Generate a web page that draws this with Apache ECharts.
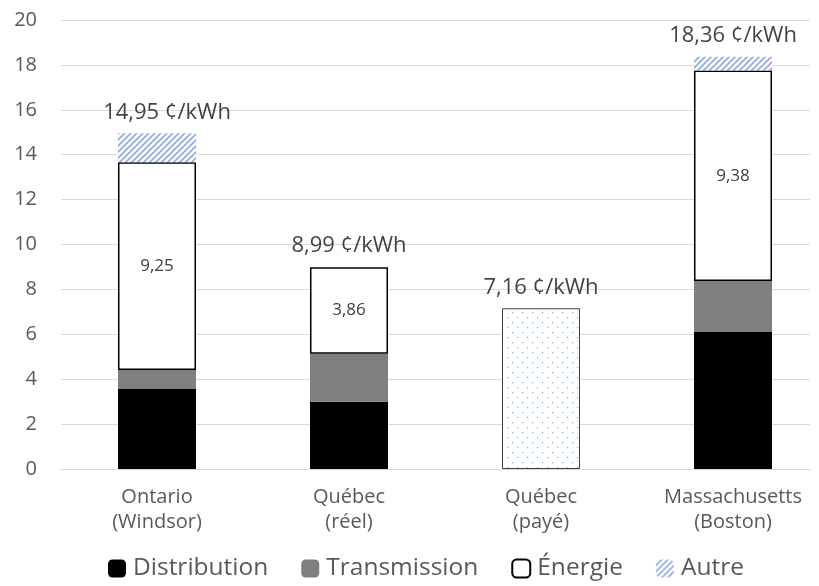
<!DOCTYPE html>
<html>
<head>
<meta charset="utf-8">
<script src="https://cdn.jsdelivr.net/npm/echarts@6/dist/echarts.min.js"></script>
<style>
  html, body { margin: 0; padding: 0; background: #fff; overflow: hidden; width: 819px; height: 586px; }
  #chart { width: 840px; height: 586px; }
</style>
</head>
<body>
<div id="chart"></div>
<script>
// Coûts de l'électricité par composante (¢/kWh)
const categories = ['Ontario\n(Windsor)', 'Québec\n(réel)', 'Québec\n(payé)', 'Massachusetts\n(Boston)'];
const distribution = [3.56, 2.99, null, 6.12];
const transmission = [0.85, 2.14, null, 2.25];
const energie = [9.25, 3.86, null, 9.38];
const autre = [1.29, null, null, 0.61];
const paye = [null, null, 7.16, null];
const totals = [14.95, 8.99, 7.16, 18.36];
const yTicks = { min: 0, max: 20, interval: 2 };

const FONT = '"Open Sans", "Noto Sans", sans-serif';
const fmt = v => String(v.toFixed(2)).replace('.', ',');

// Diagonal hatch fill for "Autre"
function hatchPattern() {
  const c = document.createElement('canvas');
  c.width = 6; c.height = 6;
  const g = c.getContext('2d');
  g.fillStyle = '#ffffff';
  g.fillRect(0, 0, 6, 6);
  g.strokeStyle = '#8FAADC';
  g.lineWidth = 1.6;
  g.beginPath();
  g.moveTo(-1, 7); g.lineTo(7, -1);
  g.moveTo(-4, 4); g.lineTo(4, -4);
  g.moveTo(2, 10); g.lineTo(10, 2);
  g.stroke();
  return c;
}

// Light dotted fill for the paid rate
function dotPattern() {
  const c = document.createElement('canvas');
  c.width = 10; c.height = 10;
  const g = c.getContext('2d');
  g.fillStyle = '#ffffff';
  g.fillRect(0, 0, 10, 10);
  g.fillStyle = '#7FA7D9';
  g.fillRect(2, 2, 1.2, 1.2);
  g.fillRect(7, 7, 1.2, 1.2);
  return c;
}

const chart = echarts.init(document.getElementById('chart'), null, { renderer: 'canvas' });

// The first total label sits slightly to the right of its bar
const totalData = totals.map((v, i) => i === 0 ? { value: v, label: { offset: [10, 0] } } : v);

const barW = 78;
const option = {
  animation: false,
  textStyle: { fontFamily: FONT },
  // grid 0 carries the value scale and gridlines, grid 1 carries the bars
  grid: [
    { left: 61, width: 749, top: 20, bottom: 117, containLabel: false },
    { left: 61, width: 768, top: 20, bottom: 117, containLabel: false }
  ],
  legend: {
    data: ['Distribution', 'Transmission', 'Énergie', 'Autre'],
    top: 551,
    left: 103,
    itemWidth: 18,
    itemHeight: 18,
    itemGap: 33,
    textStyle: { fontFamily: FONT, fontSize: 24.5, color: '#595959', padding: [0, 0, 0, 2] }
  },
  xAxis: [
    {
      gridIndex: 0, type: 'category', data: categories,
      axisLine: { show: true, lineStyle: { color: '#D9D9D9', width: 1 } },
      axisTick: { show: false },
      axisLabel: { show: false }
    },
    {
      gridIndex: 1, type: 'category', data: categories,
      axisLine: { show: false },
      axisTick: { show: false },
      axisLabel: { fontFamily: FONT, fontSize: 20, color: '#595959', lineHeight: 25, margin: 16 }
    }
  ],
  yAxis: [
    {
      gridIndex: 0, type: 'value',
      min: yTicks.min, max: yTicks.max, interval: yTicks.interval,
      axisLine: { show: false },
      axisTick: { show: false },
      splitLine: { lineStyle: { color: '#D9D9D9', width: 1 } },
      axisLabel: { fontFamily: FONT, fontSize: 20, color: '#595959', margin: 24 }
    },
    {
      gridIndex: 1, type: 'value',
      min: yTicks.min, max: yTicks.max, interval: yTicks.interval,
      axisLine: { show: false },
      axisTick: { show: false },
      splitLine: { show: false },
      axisLabel: { show: false }
    }
  ],
  series: [
    {
      name: 'Distribution', type: 'bar', stack: 'cout', barWidth: barW,
      xAxisIndex: 1, yAxisIndex: 1,
      data: distribution,
      itemStyle: { color: '#000000' }
    },
    {
      name: 'Transmission', type: 'bar', stack: 'cout', barWidth: barW,
      xAxisIndex: 1, yAxisIndex: 1,
      data: transmission,
      itemStyle: { color: '#7F7F7F' }
    },
    {
      name: 'Énergie', type: 'bar', stack: 'cout', barWidth: barW,
      xAxisIndex: 1, yAxisIndex: 1,
      data: energie,
      itemStyle: { color: '#FFFFFF', borderColor: '#000000', borderWidth: 1.5 },
      label: {
        show: true, position: 'inside',
        formatter: p => fmt(p.value),
        fontFamily: FONT, fontSize: 17, color: '#404040'
      }
    },
    {
      name: 'Autre', type: 'bar', stack: 'cout', barWidth: barW,
      xAxisIndex: 1, yAxisIndex: 1,
      data: autre,
      itemStyle: { color: { image: hatchPattern(), repeat: 'repeat' } }
    },
    {
      name: 'Payé', type: 'bar', stack: 'cout', barWidth: barW,
      xAxisIndex: 1, yAxisIndex: 1,
      data: paye,
      itemStyle: { color: { image: dotPattern(), repeat: 'repeat' }, borderColor: '#404040', borderWidth: 1 }
    },
    {
      name: 'Total', type: 'scatter',
      xAxisIndex: 1, yAxisIndex: 1,
      data: totalData,
      symbolSize: 0,
      silent: true,
      label: {
        show: true, position: 'top', distance: 10,
        formatter: p => fmt(p.value) + ' ¢/kWh',
        fontFamily: FONT, fontSize: 22, color: '#111111'
      }
    }
  ]
};

chart.setOption(option);
</script>
</body>
</html>
